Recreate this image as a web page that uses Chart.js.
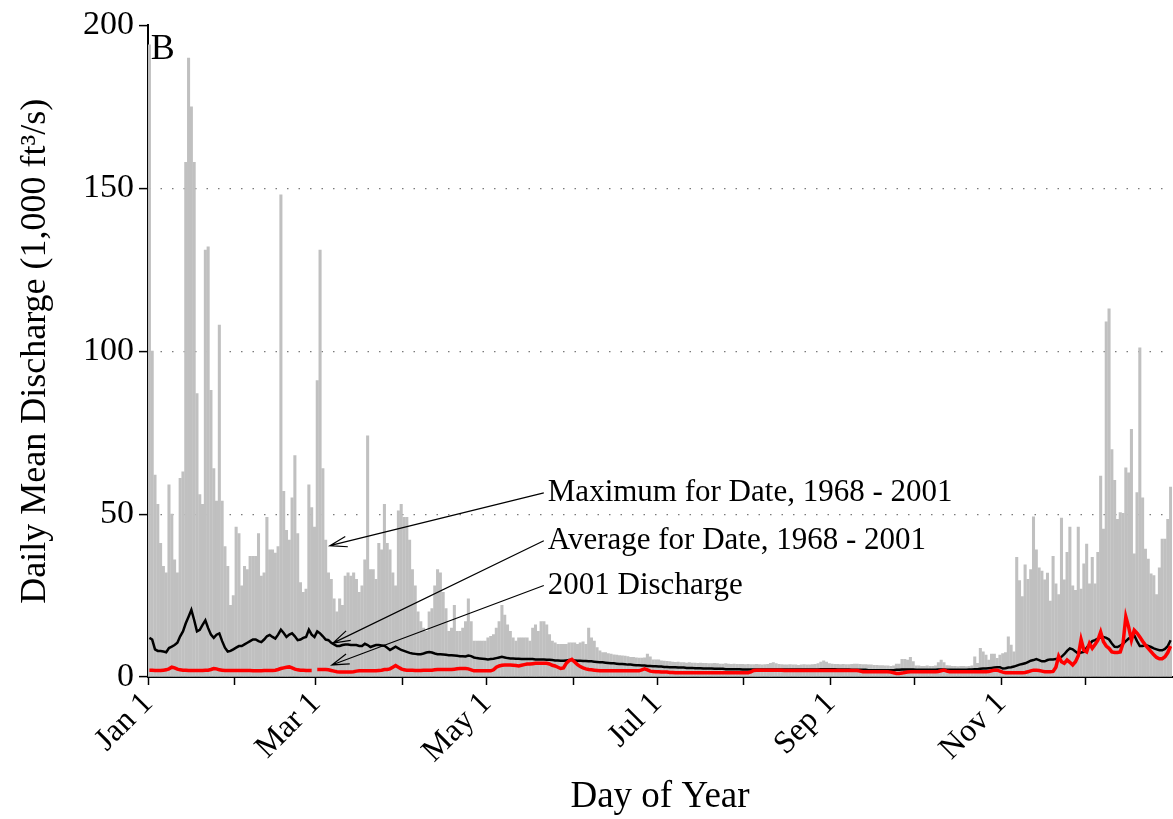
<!DOCTYPE html>
<html>
<head>
<meta charset="utf-8">
<script src="https://cdn.jsdelivr.net/npm/chart.js@4.4.1/dist/chart.umd.min.js"></script>
<style>
  html, body { margin: 0; padding: 0; background: #fff; }
</style>
</head>
<body>
<canvas id="grafico" width="1173" height="819"></canvas>
<script>
// Calendar (366-day year, Feb 29 included)
const monthNames = ['Jan', 'Feb', 'Mar', 'Apr', 'May', 'Jun', 'Jul', 'Aug', 'Sep', 'Oct', 'Nov', 'Dec'];
const monthDays = [31, 29, 31, 30, 31, 30, 31, 31, 30, 31, 30, 31];
const labeledMonths = ['Jan', 'Mar', 'May', 'Jul', 'Sep', 'Nov'];
const yTicks = [0, 50, 100, 150, 200];

// Maximum for date, 1968 - 2001 (1,000 ft3/s)
const dailyMax = [
  194, 100, 62, 53, 41, 34, 32, 59, 50, 36, 32, 61, 63, 158, 190, 175, 158, 87, 56, 53, 131, 132, 88, 64, 54, 108, 54, 40, 34, 22, 25, // Jan
  46, 44, 28, 34, 33, 37, 37, 37, 44, 31, 32, 49, 39, 39, 38, 40, 148, 57, 45, 42, 55, 68, 44, 29, 26, 27, 59, 52, 46, // Feb
  91, 131, 64, 42, 32, 30, 24, 20, 24, 22, 31, 32, 31, 32, 30, 26, 28, 36, 74, 33, 33, 30, 41, 39, 53, 41, 39, 32, 28, 51, 53, // Mar
  49, 49, 42, 33, 28, 20, 17, 15, 14, 20, 21, 28, 33, 32, 26, 21, 14, 15, 22, 14, 14, 15, 17, 24, 17, 11, 11, 11, 11, 11, // Apr
  12, 12.5, 13, 15, 17, 22, 19, 16, 14, 12, 11, 12, 12, 12, 12, 11, 15, 16, 14, 17, 17, 16, 13, 11, 10.5, 10, 10, 10, 10, 10.5, 10.5, // May
  10.5, 10, 10.5, 10.8, 10, 15, 12, 11, 9, 8, 7.5, 7.5, 7.2, 7, 6.8, 6.7, 6.6, 6.5, 6.4, 6.3, 6, 6, 5.9, 5.8, 5.8, 5.9, 7, 6.2, 5.3, 5.3, // Jun
  5.3, 5, 4.9, 4.8, 4.7, 4.6, 4.5, 4.6, 4.4, 4.4, 4.3, 4.4, 4.3, 4.3, 4.2, 4.3, 4.2, 4.2, 4.1, 4.1, 4.2, 4.1, 4, 4, 4.1, 4, 3.9, 4, 3.9, 3.9, 3.9, // Jul
  3.8, 3.9, 3.8, 3.8, 3.9, 3.8, 3.7, 3.8, 3.9, 4.2, 4.4, 4.1, 3.9, 3.8, 3.7, 3.7, 3.8, 3.7, 3.7, 3.6, 3.7, 3.8, 3.7, 3.7, 3.8, 3.9, 4.1, 4.6, 5, 4.6, 4.1, // Aug
  4, 3.9, 3.9, 3.8, 3.9, 3.8, 3.8, 3.9, 4, 4, 3.9, 3.8, 3.8, 3.7, 3.7, 3.6, 3.6, 3.5, 3.5, 3.4, 3.4, 3.3, 3.4, 4, 4, 5.4, 5.4, 5.2, 6, 4.7, // Sep
  3.4, 3.4, 3.3, 3.3, 3.4, 3.3, 3.3, 3.4, 4.4, 5.2, 4.4, 3.5, 3.4, 3.3, 3.3, 3.2, 3.3, 3.3, 3.2, 3.3, 3.4, 6.2, 4.2, 8.8, 7.7, 6.7, 5.2, 7, 7, 5.7, 6.7, // Oct
  7.2, 7.5, 12.3, 9.8, 7.7, 36.7, 29.6, 24.7, 34.4, 30, 33, 49.2, 39, 33.5, 32.5, 29.8, 31.9, 23.3, 37, 28.6, 25.3, 48.8, 29.8, 38.3, 46, 28, 26.6, 46, 27, 34.7, // Nov
  40.8, 28.6, 36.7, 28.6, 38.3, 61.7, 45.4, 109, 113, 69.8, 60.4, 48.4, 50.5, 50.2, 64.2, 62.7, 76, 37.8, 56.6, 101, 55, 39.3, 36.2, 31.7, 31.1, 25.3, 33.5, 42.3, 42.3, 48.4, 58.3 // Dec
];

// Average for date, 1968 - 2001
const dailyAvg = [
  12, 11.5, 8.5, 8, 8, 7.8, 7.6, 8.9, 9.3, 9.8, 10.5, 12.5, 14, 16.5, 18.5, 20.6, 17.5, 14, 14.5, 16, 17.4, 15, 13, 12, 13, 13.4, 11, 9, 7.8, 8, 8.5,
  9, 9.5, 9.5, 10, 10.5, 11, 11.5, 11.5, 11, 10.7, 11.5, 12.5, 12.9, 12.3, 11.8, 13, 14.5, 13.5, 12.3, 13, 13.4, 12.5, 11.3, 11.5, 12, 12.3, 14.5, 13, 12.3,
  14, 13.4, 12.5, 11.5, 11.3, 10.5, 10, 9.5, 9.5, 9.8, 10, 10, 9.8, 9.8, 9.8, 9.5, 9.5, 10.2, 9.8, 9.2, 9.5, 9.8, 9.8, 9.7, 9.6, 9, 8.3, 8.8, 9.3, 8.8, 8.3,
  8, 7.7, 7.4, 7.2, 7.1, 7, 7, 7.2, 7.5, 7.7, 7.5, 7.2, 7, 7, 6.9, 6.8, 6.7, 6.7, 6.6, 6.5, 6.4, 6.4, 6.3, 6.6, 6.4, 6, 5.8, 5.7, 5.6, 5.5,
  5.4, 5.5, 5.6, 5.8, 6, 6.2, 6, 5.8, 5.7, 5.7, 5.6, 5.6, 5.5, 5.5, 5.5, 5.5, 5.5, 5.4, 5.4, 5.4, 5.4, 5.3, 5.3, 5.2, 5.1, 5.1, 5, 5, 5.1, 5.2, 5.2,
  5.1, 5, 5, 4.9, 4.9, 4.8, 4.8, 4.7, 4.6, 4.5, 4.5, 4.4, 4.3, 4.2, 4.2, 4.1, 4, 4, 3.9, 3.8, 3.8, 3.7, 3.6, 3.6, 3.5, 3.5, 3.4, 3.4, 3.3, 3.3,
  3.2, 3.2, 3.1, 3.1, 3, 3, 3, 2.9, 2.9, 2.9, 2.8, 2.8, 2.8, 2.7, 2.7, 2.7, 2.6, 2.6, 2.6, 2.6, 2.5, 2.5, 2.5, 2.5, 2.4, 2.4, 2.4, 2.4, 2.4, 2.4, 2.3,
  2.3, 2.3, 2.3, 2.3, 2.3, 2.3, 2.3, 2.3, 2.3, 2.3, 2.3, 2.3, 2.3, 2.3, 2.3, 2.3, 2.3, 2.3, 2.3, 2.3, 2.3, 2.3, 2.3, 2.3, 2.3, 2.3, 2.3, 2.4, 2.4, 2.4, 2.4,
  2.4, 2.4, 2.3, 2.3, 2.3, 2.3, 2.3, 2.2, 2.2, 2.2, 2.2, 2.2, 2.2, 2.1, 2.1, 2.1, 2.1, 2.1, 2.1, 2.1, 2.1, 2.1, 2.1, 2.2, 2.2, 2.3, 2.3, 2.3, 2.3, 2.3,
  2.2, 2.2, 2.2, 2.2, 2.2, 2.2, 2.2, 2.2, 2.3, 2.3, 2.3, 2.2, 2.2, 2.2, 2.2, 2.2, 2.2, 2.2, 2.2, 2.3, 2.3, 2.4, 2.4, 2.5, 2.6, 2.6, 2.7, 2.8, 2.9, 3, 3,
  2.6, 2.7, 2.9, 3, 3.2, 3.5, 3.8, 4, 4.2, 4.6, 5, 5.2, 5.5, 5.2, 4.8, 4.8, 5.2, 5.4, 5.4, 5.5, 5.8, 6.2, 7, 8, 8.8, 8.5, 7.8, 7.2, 7.5, 7.7,
  9, 10, 11, 11.3, 11.8, 12.2, 12.3, 12, 11.5, 10.3, 9.3, 9.2, 9.6, 10.2, 11, 11.8, 12.3, 12.8, 11, 9.5, 9.5, 9.8, 9.5, 9.2, 8.8, 8.5, 8.2, 8.2, 8.6, 9.5, 11.3
];

// 2001 discharge (no Feb 29 in 2001)
const discharge2001 = [
  2.1, 2.1, 2, 2, 2, 2.1, 2.2, 2.5, 3, 2.8, 2.4, 2.2, 2.1, 2.1, 2, 2, 2, 2, 2, 2, 2.1, 2.1, 2.3, 2.6, 2.5, 2.2, 2.1, 2, 2, 2, 2,
  2, 2, 2, 2, 2, 2, 1.9, 1.9, 1.9, 1.9, 2, 2, 2, 2, 2.1, 2.3, 2.6, 2.8, 3, 3.1, 2.8, 2.4, 2.2, 2.1, 2.1, 2, 2, 2, null,
  2.3, 2.3, 2.3, 2.3, 2.2, 2, 1.8, 1.6, 1.5, 1.5, 1.5, 1.5, 1.5, 1.6, 1.8, 1.9, 1.9, 1.9, 1.9, 1.9, 1.9, 1.9, 2, 2.1, 2.3, 2.3, 2.5, 3, 3.5, 3, 2.5,
  2.2, 2.1, 2.1, 2.1, 2, 2, 2, 2.1, 2.1, 2.1, 2.1, 2.2, 2.3, 2.3, 2.3, 2.3, 2.3, 2.3, 2.4, 2.5, 2.6, 2.6, 2.6, 2.5, 2.2, 1.9, 1.9, 1.9, 1.9, 1.9,
  1.9, 1.9, 2.2, 3, 3.4, 3.6, 3.7, 3.7, 3.7, 3.6, 3.5, 3.4, 3.6, 3.8, 4, 4, 4.1, 4.2, 4.2, 4.2, 4.2, 4.2, 4, 3.6, 3.4, 3, 2.6, 2.8, 4.2, 5, 5.4,
  4.6, 3.8, 3.2, 2.8, 2.5, 2.3, 2.2, 2.1, 2, 1.9, 1.9, 1.9, 1.9, 1.9, 1.9, 1.9, 1.9, 1.9, 1.9, 1.9, 1.9, 1.9, 1.9, 1.9, 2.2, 2.5, 2.2, 1.8, 1.7, 1.6,
  1.6, 1.5, 1.5, 1.5, 1.4, 1.4, 1.3, 1.3, 1.3, 1.3, 1.3, 1.3, 1.3, 1.3, 1.3, 1.3, 1.3, 1.3, 1.3, 1.3, 1.3, 1.3, 1.3, 1.3, 1.3, 1.3, 1.3, 1.3, 1.3, 1.3, 1.3,
  1.3, 1.3, 1.6, 2, 2.1, 2.1, 2.1, 2.1, 2.1, 2.1, 2.1, 2.1, 2.1, 2.1, 2, 2, 2, 2, 2, 2, 2, 2, 2, 2, 2, 2, 2, 2, 2, 2, 2,
  2, 2, 2, 2, 2, 2, 2, 2, 2, 2, 1.8, 1.6, 1.6, 1.6, 1.6, 1.6, 1.6, 1.6, 1.6, 1.6, 1.6, 1.5, 1.3, 1.1, 1.1, 1.2, 1.4, 1.5, 1.6, 1.6,
  1.6, 1.6, 1.6, 1.6, 1.6, 1.6, 1.6, 1.6, 1.7, 1.9, 2.1, 1.8, 1.6, 1.6, 1.6, 1.6, 1.6, 1.6, 1.6, 1.6, 1.6, 1.6, 1.6, 1.6, 1.6, 1.6, 1.7, 1.9, 2.1, 2.1, 1.8,
  1.5, 1.3, 1.3, 1.3, 1.3, 1.3, 1.3, 1.3, 1.4, 1.6, 1.9, 2.1, 2.1, 2, 1.8, 1.6, 1.6, 1.6, 1.7, 3, 6.4, 4.7, 4.2, 5.2, 4.5, 3.7, 4.7, 6.5, 11.5, 8.2,
  7.7, 10.3, 8.8, 10, 11.3, 13.8, 10.8, 9.5, 8.8, 7.7, 7.5, 7.5, 7.7, 10.3, 18.5, 15.4, 11.3, 14.4, 13.5, 12.3, 11, 9.8, 8.8, 7.8, 6.8, 6, 5.6, 5.6, 6.2, 7.5, 9.5
];

// Callouts: text anchor and arrow tip, in (day, value) units
const notes = [
  { text: 'Maximum for Date, 1968 - 2001', at: [142.9, 56.5], tip: [65, 40.3] },
  { text: 'Average for Date, 1968 - 2001', at: [142.9, 41.8], tip: [66.1, 10.4] },
  { text: '2001 Discharge', at: [142.9, 28.1], tip: [65.7, 3.7] }
];
const panelLabel = { text: 'B', at: [1.0, 192.5] };

const serif = "'Liberation Serif', 'Times New Roman', serif";

// first day of each month (tick positions)
const monthStarts = [];
monthDays.reduce((acc, n) => { monthStarts.push(acc); return acc + n; }, 0);
const totalDays = monthDays.reduce((a, b) => a + b, 0);

const toPoints = arr => arr.map((v, i) => ({ x: i + 0.5, y: v }));

const calloutPlugin = {
  id: 'callouts',
  afterDatasetsDraw(chart) {
    const { ctx, scales: { x, y } } = chart;
    ctx.save();
    ctx.strokeStyle = '#000';
    ctx.fillStyle = '#000';
    ctx.lineWidth = 1.2;
    ctx.font = '31px ' + serif;
    ctx.textBaseline = 'middle';
    notes.forEach(n => {
      const x0 = x.getPixelForValue(n.at[0]);
      const y0 = y.getPixelForValue(n.at[1]);
      const x1 = x.getPixelForValue(n.tip[0]);
      const y1 = y.getPixelForValue(n.tip[1]);
      const sx = x0 - 4;
      ctx.beginPath();
      ctx.moveTo(sx, y0);
      ctx.lineTo(x1, y1);
      const ang = Math.atan2(y0 - y1, sx - x1);
      const len = 18, spread = 0.3;
      ctx.moveTo(x1 + len * Math.cos(ang + spread), y1 + len * Math.sin(ang + spread));
      ctx.lineTo(x1, y1);
      ctx.lineTo(x1 + len * Math.cos(ang - spread), y1 + len * Math.sin(ang - spread));
      ctx.stroke();
      ctx.fillText(n.text, x0, y0);
    });
    ctx.font = '36px ' + serif;
    ctx.fillText(panelLabel.text, x.getPixelForValue(panelLabel.at[0]), y.getPixelForValue(panelLabel.at[1]));
    ctx.restore();
  }
};

const ctx = document.getElementById('grafico').getContext('2d');
const grafico = new Chart(ctx, {
  type: 'bar',
  data: {
    datasets: [
      {
        type: 'line',
        label: '2001 Discharge',
        data: toPoints(discharge2001),
        borderColor: '#ff0000',
        borderWidth: 3.5,
        pointRadius: 0,
        tension: 0,
        spanGaps: false,
        order: 0
      },
      {
        type: 'line',
        label: 'Average for Date, 1968 - 2001',
        data: toPoints(dailyAvg),
        borderColor: '#000000',
        borderWidth: 2.5,
        pointRadius: 0,
        tension: 0,
        order: 1
      },
      {
        label: 'Maximum for Date, 1968 - 2001',
        data: toPoints(dailyMax),
        backgroundColor: '#c0c0c0',
        borderWidth: 0,
        barThickness: 'flex',
        barPercentage: 0.86,
        categoryPercentage: 1,
        order: 2
      }
    ]
  },
  options: {
    responsive: false,
    animation: false,
    layout: { padding: { left: 0, right: 1, top: 22, bottom: 0 } },
    plugins: {
      legend: { display: false },
      tooltip: { enabled: false }
    },
    scales: {
      x: {
        type: 'linear',
        min: 0,
        max: totalDays,
        offset: false,
        afterBuildTicks: axis => { axis.ticks = monthStarts.map(v => ({ value: v })); },
        afterFit: axis => { axis.height = 142; },
        grid: { offset: false, drawOnChartArea: false, tickLength: 8, tickColor: '#000', tickWidth: 1.5 },
        border: { color: '#000', width: 2 },
        ticks: {
          autoSkip: false,
          minRotation: 45,
          maxRotation: 45,
          padding: 0,
          color: '#000',
          font: { family: serif, size: 32 },
          callback: value => {
            const m = monthStarts.indexOf(value);
            return m >= 0 && labeledMonths.includes(monthNames[m]) ? monthNames[m] + ' 1' : '';
          }
        },
        title: {
          display: true,
          text: 'Day of Year',
          color: '#000',
          font: { family: serif, size: 37, lineHeight: 1.2 },
          padding: { top: 0, bottom: 0 }
        }
      },
      y: {
        min: 0,
        max: 200,
        afterBuildTicks: axis => { axis.ticks = yTicks.map(v => ({ value: v })); },
        afterFit: axis => { axis.width = 148; },
        grid: {
          color: c => (c.tick && c.tick.value > 0 && c.tick.value < 200) ? '#7a7a7a' : 'rgba(0,0,0,0)',
          lineWidth: 1.2,
          tickLength: 9,
          tickColor: '#000',
          tickWidth: 1.5,
          tickBorderDash: []
        },
        border: { color: '#000', width: 2, dash: [1.5, 10] },
        ticks: {
          padding: 5,
          color: '#000',
          font: { family: serif, size: 34 }
        },
        title: {
          display: true,
          text: 'Daily Mean Discharge (1,000 ft\u00B3/s)',
          color: '#000',
          font: { family: serif, size: 36, lineHeight: 1.2 },
          padding: { top: 14, bottom: 0 }
        }
      }
    }
  },
  plugins: [calloutPlugin]
});
</script>
</body>
</html>
